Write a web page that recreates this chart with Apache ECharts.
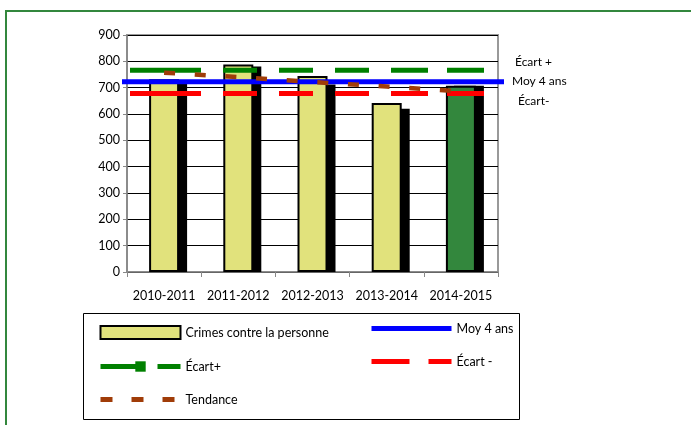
<!DOCTYPE html>
<html>
<head>
<meta charset="utf-8">
<script src="https://cdn.jsdelivr.net/npm/echarts@6/dist/echarts.min.js"></script>
<style>
  html, body { margin: 0; padding: 0; background: #fff; }
  #chart { width: 691px; height: 425px; }
</style>
</head>
<body>
<div id="chart"></div>
<script>
// donnees
const categories = ['2010-2011', '2011-2012', '2012-2013', '2013-2014', '2014-2015'];
const crimes = [732, 788, 744, 642, 707];
const ombre = [716, 780, 712, 620, 707];
const moy4ans = [722, 722, 722, 722, 722];
const ecartPlus = [766, 766, 766, 766, 766];
const ecartMoins = [678, 678, 678, 678, 678];
const tendance = [757, 740, 722, 704, 686];

const font = 'Lato';
const jaune = '#E1E27C';
const vertBarre = '#33873D';

let chart = echarts.init(document.getElementById('chart'));

// grilles : 0 = principale, 1 = moyenne (plus large), 2 = ecarts, 3 = ombre des barres (decalee)
const gridTop = 35, gridBottom = 153;
let hiddenY = (i) => ({ gridIndex: i, type: 'value', min: 0, max: 900, show: false });
let hiddenX = (i, gap) => ({ gridIndex: i, type: 'category', data: categories, boundaryGap: gap, show: false });
let noSymbol = { opacity: 0 };

chart.setOption({
    animation: false,
    textStyle: { fontFamily: font },
    grid: [
        { left: 127, right: 193, top: gridTop, bottom: gridBottom, show: true, borderColor: '#999', borderWidth: 2 },
        { left: 122, right: 187, top: gridTop, bottom: gridBottom },
        { left: 130, right: 207, top: gridTop, bottom: gridBottom },
        { left: 135, right: 185, top: gridTop, bottom: gridBottom }
    ],
    xAxis: [
        {
            gridIndex: 0, type: 'category', data: categories,
            axisLine: { lineStyle: { color: '#888', width: 1.5 } },
            axisTick: { show: true, length: 5, lineStyle: { color: '#888' } },
            axisLabel: { color: '#000', fontSize: 12.5, margin: 17, interval: 0, fontFamily: font }
        },
        hiddenX(1, false),
        hiddenX(2, false),
        hiddenX(3, true)
    ],
    yAxis: [
        {
            gridIndex: 0, type: 'value', min: 0, max: 900, interval: 100,
            axisLine: { show: true, lineStyle: { color: '#888', width: 1.5 } },
            axisTick: { show: true, length: 4, lineStyle: { color: '#888' } },
            axisLabel: { color: '#000', fontSize: 12.5, margin: 7, fontFamily: font },
            splitLine: { lineStyle: { color: '#000', width: 1 } }
        },
        hiddenY(1),
        hiddenY(2),
        hiddenY(3)
    ],
    legend: [
        {
            left: 98, top: 325, orient: 'vertical', itemWidth: 80, itemHeight: 13, itemGap: 20,
            padding: 0, selectedMode: false,
            textStyle: { color: '#000', fontSize: 12.5, fontFamily: font },
            data: [
                { name: 'Crimes contre la personne', icon: 'rect' },
                { name: 'Écart+', lineStyle: { type: [36, 21], width: 5 } },
                { name: 'Tendance', lineStyle: { type: [12, 19], width: 5 }, itemStyle: noSymbol }
            ]
        },
        {
            left: 369, top: 322, orient: 'vertical', itemWidth: 80, itemHeight: 13, itemGap: 20,
            padding: 0, selectedMode: false,
            textStyle: { color: '#000', fontSize: 12.5, fontFamily: font },
            data: [
                { name: 'Moy 4 ans', lineStyle: { width: 5 }, itemStyle: noSymbol },
                { name: 'Écart -', lineStyle: { type: [38, 19], width: 5 }, itemStyle: noSymbol }
            ]
        }
    ],
    graphic: [
        { type: 'rect', shape: { x: 6, y: 11, width: 700, height: 430 }, style: { fill: 'none', stroke: vertBarre, lineWidth: 2 }, silent: true },
        { type: 'rect', shape: { x: 83.5, y: 313.5, width: 436, height: 106 }, style: { fill: 'none', stroke: '#000', lineWidth: 1 }, silent: true },
        { type: 'text', left: 515, top: 56, style: { text: 'Écart +', fontSize: 12, fontFamily: font, fill: '#000' } },
        { type: 'text', left: 512, top: 75, style: { text: 'Moy 4 ans', fontSize: 12, fontFamily: font, fill: '#000' } },
        { type: 'text', left: 518, top: 95, style: { text: 'Écart-', fontSize: 12, fontFamily: font, fill: '#000' } }
    ],
    series: [
        {
            name: 'Ombre', type: 'bar', xAxisIndex: 3, yAxisIndex: 3,
            barWidth: 30, data: ombre, itemStyle: { color: '#000' }
        },
        {
            name: 'Crimes contre la personne', type: 'bar', xAxisIndex: 0, yAxisIndex: 0,
            barWidth: 30,
            itemStyle: { color: jaune, borderColor: '#000', borderWidth: 2 },
            data: crimes.map((v, i) => i === crimes.length - 1
                ? { value: v, itemStyle: { color: vertBarre } }
                : v)
        },
        {
            name: 'Écart+', type: 'line', xAxisIndex: 2, yAxisIndex: 2, data: ecartPlus,
            symbol: 'rect', symbolSize: 11, showSymbol: false,
            itemStyle: { color: '#008000' },
            lineStyle: { color: '#008000', width: 5, type: [71, 22, 34, 22, 34, 22, 34, 22, 37, 19, 37] }
        },
        {
            name: 'Écart -', type: 'line', xAxisIndex: 2, yAxisIndex: 2, data: ecartMoins,
            symbol: 'none',
            itemStyle: { color: '#FF0000' },
            lineStyle: { color: '#FF0000', width: 5, type: [71, 22, 34, 22, 34, 22, 34, 22, 37, 19, 37] }
        },
        {
            name: 'Moy 4 ans', type: 'line', xAxisIndex: 1, yAxisIndex: 1, data: moy4ans,
            symbol: 'rect', symbolSize: 6, showSymbol: false,
            itemStyle: { color: '#0000FF' },
            lineStyle: { color: '#0000FF', width: 5 }
        },
        {
            name: 'Tendance', type: 'line', xAxisIndex: 0, yAxisIndex: 0, data: tendance,
            symbol: 'none',
            itemStyle: { color: '#A03C08' },
            lineStyle: { color: '#A03C08', width: 4.5, type: [11, 19.7] }
        }
    ]
});
</script>
</body>
</html>
